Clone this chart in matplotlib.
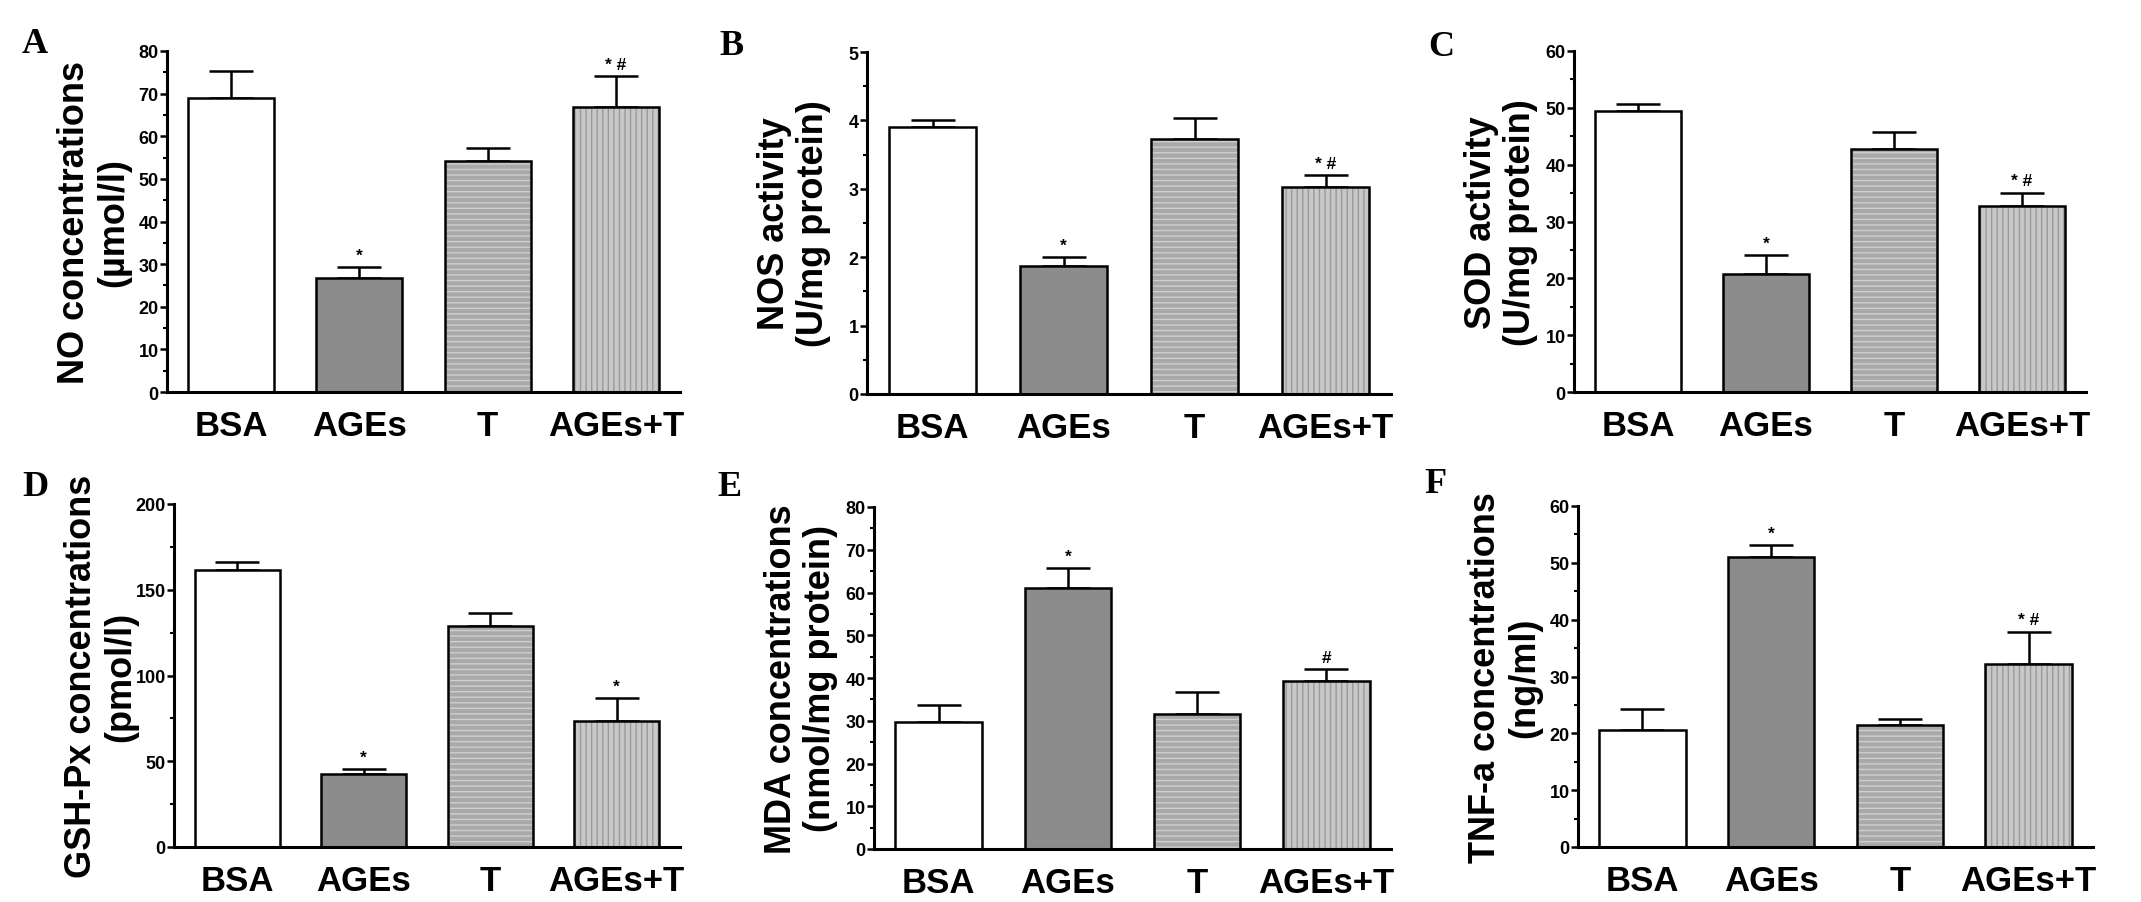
import numpy as np
import matplotlib
matplotlib.use('Agg')
import matplotlib.pyplot as plt

plt.rcParams['font.family'] = ['Liberation Sans', 'DejaVu Sans']
plt.rcParams['font.weight'] = 'bold'
plt.rcParams['hatch.linewidth'] = 1.0

groups = ['BSA', 'AGEs', 'T', 'AGEs+T']

no_mean = [68.9, 26.8, 54.2, 66.8]
no_err = [6.5, 2.5, 3.0, 7.4]
nos_mean = [3.91, 1.87, 3.73, 3.02]
nos_err = [0.10, 0.14, 0.30, 0.18]
sod_mean = [49.5, 20.7, 42.8, 32.8]
sod_err = [1.1, 3.4, 2.9, 2.3]
gsh_mean = [161.7, 42.7, 128.7, 73.2]
gsh_err = [4.3, 2.9, 7.6, 13.6]
mda_mean = [29.8, 61.1, 31.6, 39.3]
mda_err = [3.8, 4.7, 5.1, 2.7]
tnf_mean = [20.5, 51.1, 21.5, 32.2]
tnf_err = [3.8, 2.1, 1.0, 5.7]

marks_abc = ['', '*', '', '* #']
marks_d = ['', '*', '', '*']
marks_e = ['', '*', '', '#']
marks_f = ['', '*', '', '* #']

ylabels = ['NO concentrations\n(\u00b5mol/l)', 'NOS activity\n(U/mg protein)',
           'SOD activity\n(U/mg protein)', 'GSH-Px concentrations\n(pmol/l)',
           'MDA concentrations\n(nmol/mg protein)', 'TNF-a concentrations\n(ng/ml)']
letters = ['A', 'B', 'C', 'D', 'E', 'F']

# bar styling: (face, hatch, hatch colour)
styles = [('white', None, 'white'),
          ('#8c8c8c', None, '#8c8c8c'),
          ('#a9a9a9', '---', '#cfcfcf'),
          ('#c8c8c8', '|||', '#9a9a9a')]

W, H = 2141, 903
fig = plt.figure(figsize=(W / 100, H / 100), dpi=100)

# axes boxes in pixels: left, right, top, bottom
boxes = [(167, 680, 52, 393), (867, 1391, 53, 395), (1574, 2086, 52, 393),
         (174, 680, 505, 848), (874, 1391, 508, 850), (1578, 2093, 507, 848)]
letter_pos = [(22, 28), (719, 30), (1428, 31), (22, 471), (717, 471), (1424, 468)]


def panel(i, mean, err, top, step, marks):
    l, r, t, b = boxes[i]
    ax = fig.add_axes([l / W, 1 - b / H, (r - l) / W, (b - t) / H])
    x = np.arange(len(groups))
    for xi, m, (fc, hatch, hc) in zip(x, mean, styles):
        ax.bar(xi, m, width=0.67, color=fc, edgecolor=hc, linewidth=0, hatch=hatch, zorder=2)
        ax.bar(xi, m, width=0.67, fill=False, edgecolor='black', linewidth=1.8, zorder=3)
    ax.errorbar(x, mean, yerr=[np.zeros(len(err)), err], fmt='none', ecolor='black',
                elinewidth=1.8, capsize=16, capthick=1.8, zorder=1)
    for xi, m, e, s in zip(x, mean, err, marks):
        if s:
            ax.annotate(s, (xi, m + e), xytext=(0, 3), textcoords='offset points',
                        ha='center', va='bottom', fontsize=12.5, fontweight='bold')
    ax.set_xlim(-0.5, 3.5)
    ax.set_ylim(0, top)
    ax.set_yticks(np.arange(0, top + step / 2, step))
    ax.set_yticks(np.arange(step / 2, top, step), minor=True)
    ax.set_xticks(x)
    ax.set_xticklabels(groups, fontsize=25, fontweight='bold')
    ax.tick_params(axis='x', length=0, pad=12)
    ax.tick_params(axis='y', which='major', direction='out', length=5, width=1.8,
                   labelsize=13, pad=1)
    ax.tick_params(axis='y', which='minor', direction='out', length=3, width=1.5)
    for lab in ax.get_yticklabels():
        lab.set_fontweight('bold')
    for sp in ['top', 'right']:
        ax.spines[sp].set_visible(False)
    for sp in ['left', 'bottom']:
        ax.spines[sp].set_linewidth(2.2)
    ax.set_ylabel(ylabels[i], fontsize=26, fontweight='bold', linespacing=1.15)
    ax.yaxis.set_label_coords(-36 / (r - l), 0.5)
    lx, ly = letter_pos[i]
    fig.text(lx / W, 1 - ly / H, letters[i], family='Liberation Serif', fontsize=26,
             fontweight='bold', ha='left', va='top')
    return ax


panel(0, no_mean, no_err, 80, 10, marks_abc)
panel(1, nos_mean, nos_err, 5, 1, marks_abc)
panel(2, sod_mean, sod_err, 60, 10, marks_abc)
panel(3, gsh_mean, gsh_err, 200, 50, marks_d)
panel(4, mda_mean, mda_err, 80, 10, marks_e)
panel(5, tnf_mean, tnf_err, 60, 10, marks_f)

fig.savefig('out.png', dpi=100)
